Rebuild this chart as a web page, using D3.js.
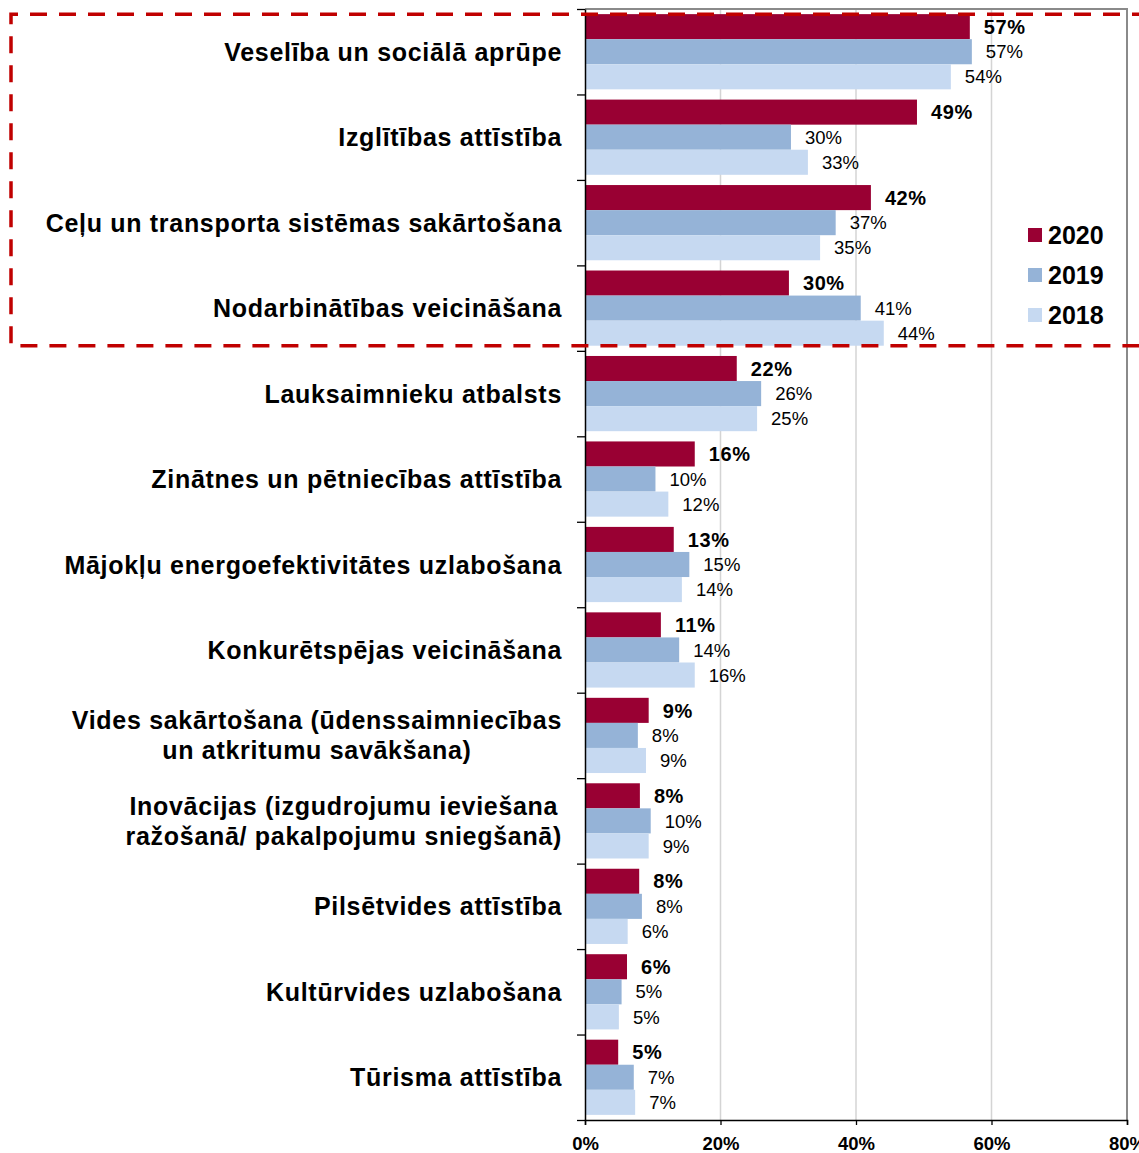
<!DOCTYPE html>
<html>
<head>
<meta charset="utf-8">
<script src="https://cdn.jsdelivr.net/npm/d3@7"></script>
<style>
    body { margin: 0; background: #fff; }
    text { font-family: "Liberation Sans", Arial, sans-serif; }
</style>
</head>
<body>
<div id="chart-area"></div>
<script>

// categories (line breaks marked with \n)
var categories = [
    "Veselība un sociālā aprūpe",
    "Izglītības attīstība",
    "Ceļu un transporta sistēmas sakārtošana",
    "Nodarbinātības veicināšana",
    "Lauksaimnieku atbalsts",
    "Zinātnes un pētniecības attīstība",
    "Mājokļu energoefektivitātes uzlabošana",
    "Konkurētspējas veicināšana",
    "Vides sakārtošana (ūdenssaimniecības\nun atkritumu savākšana)",
    "Inovācijas (izgudrojumu ieviešana\nražošanā/ pakalpojumu sniegšanā)",
    "Pilsētvides attīstība",
    "Kultūrvides uzlabošana",
    "Tūrisma attīstība"
];

var years = ["2020", "2019", "2018"];

// percent values
var values2020 = [56.8, 49.0, 42.2, 30.1, 22.4, 16.2, 13.1, 11.2, 9.4, 8.1, 8.0, 6.2, 4.9];
var values2019 = [57.1, 30.4, 37.0, 40.7, 26.0, 10.4, 15.4, 13.9, 7.8, 9.7, 8.4, 5.4, 7.2];
var values2018 = [54.0, 32.9, 34.7, 44.1, 25.4, 12.3, 14.3, 16.2, 9.0, 9.4, 6.3, 5.0, 7.4];

var xTicks = [0, 0.2, 0.4, 0.6, 0.8];

// first N categories are framed by the red dashed box
var highlightCount = 4;


BarChart = function(_parentElement){
    this.parentElement = _parentElement;
    this.initVis();
}

BarChart.prototype.initVis = function(){
    var vis = this;

    vis.margin = { top: 9, right: 12, bottom: 33, left: 585 };
    vis.width = 1139 - vis.margin.left - vis.margin.right;
    vis.height = 1153 - vis.margin.top - vis.margin.bottom;

    vis.root = d3.select("#" + vis.parentElement).append("svg")
        .attr("width", 1139)
        .attr("height", 1153);

    vis.svg = vis.root.append("g")
        .attr("transform", "translate(" + vis.margin.left + "," + vis.margin.top + ")");

    vis.colorMap = {
        "2020": "#990033",
        "2019": "#95b3d7",
        "2018": "#c6d9f1"
    };

    vis.x = d3.scaleLinear()
        .domain([0, 0.8])
        .range([0, vis.width]);

    vis.y = d3.scaleBand()
        .domain(categories)
        .range([0, vis.height])
        .paddingInner(0.12)
        .paddingOuter(0.06);

    vis.ySub = d3.scaleBand()
        .domain(years)
        .range([0, vis.y.bandwidth()]);

    // boundaries between categories, for the left tick marks
    vis.yEdge = d3.scaleLinear()
        .domain([0, categories.length])
        .range([0, vis.height]);

    vis.wrangleData();
}

BarChart.prototype.wrangleData = function(){
    var vis = this;

    vis.displayData = categories.map(function(c, i){
        return {
            category: c,
            values: [
                { year: "2020", value: values2020[i] / 100 },
                { year: "2019", value: values2019[i] / 100 },
                { year: "2018", value: values2018[i] / 100 }
            ]
        };
    });

    vis.updateVis();
}

BarChart.prototype.updateVis = function(){
    var vis = this;

    // gridlines
    vis.svg.selectAll("line.grid")
        .data(xTicks.slice(1, -1))
        .enter().append("line")
        .attr("class", "grid")
        .attr("x1", function(d){ return vis.x(d); })
        .attr("x2", function(d){ return vis.x(d); })
        .attr("y1", 0)
        .attr("y2", vis.height)
        .attr("stroke", "#d4d4d4")
        .attr("stroke-width", 1.5);

    // frame on top / right
    vis.svg.append("path")
        .attr("d", "M0,0H" + vis.x(0.8) + "V" + vis.height)
        .attr("fill", "none")
        .attr("stroke", "#8a8a8a")
        .attr("stroke-width", 2);

    // bars
    var groups = vis.svg.selectAll("g.group")
        .data(vis.displayData)
        .enter().append("g")
        .attr("class", "group")
        .attr("transform", function(d){ return "translate(0," + vis.y(d.category) + ")"; });

    groups.selectAll("rect")
        .data(function(d){ return d.values; })
        .enter().append("rect")
        .attr("x", 0)
        .attr("y", function(d){ return vis.ySub(d.year); })
        .attr("width", function(d){ return vis.x(d.value); })
        .attr("height", vis.ySub.bandwidth())
        .attr("fill", function(d){ return vis.colorMap[d.year]; });

    groups.selectAll("text.value")
        .data(function(d){ return d.values; })
        .enter().append("text")
        .attr("class", "value")
        .attr("x", function(d){ return vis.x(d.value) + 14; })
        .attr("y", function(d){ return vis.ySub(d.year) + vis.ySub.bandwidth() / 2; })
        .attr("dy", "0.36em")
        .style("font-size", function(d){ return d.year === "2020" ? "20px" : "18.5px"; })
        .style("font-weight", function(d){ return d.year === "2020" ? "bold" : "normal"; })
        .style("letter-spacing", function(d){ return d.year === "2020" ? "0.6px" : "0px"; })
        .attr("fill", "#000")
        .text(function(d){ return d3.format(".0%")(d.value); });

    // x axis
    var xAxis = d3.axisBottom(vis.x)
        .tickValues(xTicks)
        .tickFormat(d3.format(".0%"))
        .tickSize(5)
        .tickPadding(12);

    var gx = vis.svg.append("g")
        .attr("transform", "translate(0," + vis.height + ")")
        .call(xAxis);
    gx.select(".domain").attr("stroke", "#000").attr("stroke-width", 1.5);
    gx.selectAll(".tick line").attr("stroke", "#000").attr("stroke-width", 1.3);
    gx.selectAll(".tick text")
        .style("font-size", "18.5px")
        .style("font-weight", "bold")
        .attr("fill", "#000");

    // y axis: plain line with ticks between categories
    var yAxis = d3.axisLeft(vis.yEdge)
        .tickValues(d3.range(categories.length + 1))
        .tickFormat("")
        .tickSize(8)
        .tickSizeOuter(0);

    var gy = vis.svg.append("g").call(yAxis);
    gy.select(".domain").attr("stroke", "#000").attr("stroke-width", 1.5);
    gy.selectAll(".tick line").attr("stroke", "#000").attr("stroke-width", 1.3);

    // category labels
    var labelRight = -23;
    vis.svg.selectAll("text.cat")
        .data(vis.displayData)
        .enter().append("text")
        .attr("class", "cat")
        .style("font-size", "25px")
        .style("font-weight", "bold")
        .style("letter-spacing", "0.7px")
        .attr("fill", "#000")
        .each(function(d){
            var el = d3.select(this);
            var lines = d.category.split("\n");
            var cy = vis.y(d.category) + vis.y.bandwidth() / 2;
            var lineH = 30;
            var tspans = lines.map(function(line, k){
                return el.append("tspan")
                    .attr("y", cy + (k - (lines.length - 1) / 2) * lineH)
                    .attr("dy", "0.36em")
                    .text(line);
            });
            if (lines.length === 1) {
                el.attr("text-anchor", "end");
                tspans[0].attr("x", labelRight);
            } else {
                // block right-aligned, lines centred inside it
                var maxW = d3.max(tspans, function(t){ return t.node().getComputedTextLength(); });
                el.attr("text-anchor", "middle");
                tspans.forEach(function(t){ t.attr("x", labelRight - maxW / 2); });
            }
        });

    // red dashed highlight box
    var boxTop = vis.margin.top + vis.y(categories[0]);
    var boxBottom = vis.margin.top + vis.y(categories[highlightCount - 1]) + vis.y.bandwidth();
    vis.root.append("path")
        .attr("d", "M1150," + boxTop + "H11V" + boxBottom + "H1150")
        .attr("fill", "none")
        .attr("stroke", "#c00000")
        .attr("stroke-width", 3.5)
        .attr("stroke-dasharray", "17,12")
        .attr("stroke-dashoffset", -1);

    // legend
    var legend = vis.root.selectAll("g.legend")
        .data(years)
        .enter().append("g")
        .attr("class", "legend")
        .attr("transform", function(d, i){ return "translate(1028," + (235 + i * 40) + ")"; });

    legend.append("rect")
        .attr("x", 0)
        .attr("y", -7)
        .attr("width", 14)
        .attr("height", 14)
        .attr("fill", function(d){ return vis.colorMap[d]; });

    legend.append("text")
        .attr("x", 20)
        .attr("y", 0)
        .attr("dy", "0.36em")
        .style("font-size", "25px")
        .style("font-weight", "bold")
        .attr("fill", "#000")
        .text(function(d){ return d; });
}

var chart = new BarChart("chart-area");

</script>
</body>
</html>
